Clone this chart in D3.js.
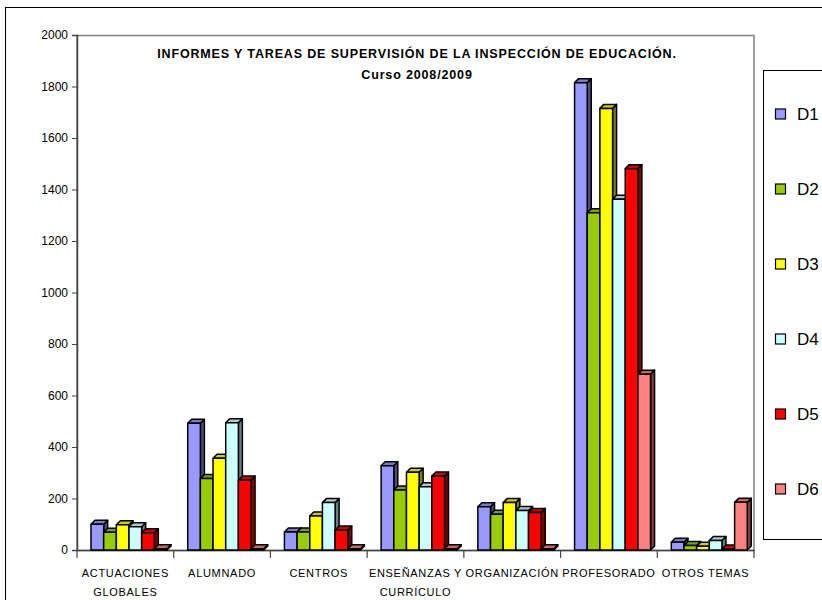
<!DOCTYPE html>
<html>
<head>
<meta charset="utf-8">
<script src="https://cdn.jsdelivr.net/npm/d3@7"></script>
<style>
  html, body { margin: 0; padding: 0; background: #fff; }
  svg { display: block; font-family: "Liberation Sans", Arial, sans-serif; }
</style>
</head>
<body>
<svg id="chart" width="822" height="600"></svg>
<script>
const categories = ["ACTUACIONES\nGLOBALES", "ALUMNADO", "CENTROS", "ENSEÑANZAS Y\nCURRÍCULO", "ORGANIZACIÓN", "PROFESORADO", "OTROS TEMAS"];
const seriesNames = ["D1", "D2", "D3", "D4", "D5", "D6"];
const D1 = [100, 492, 70, 327, 168, 1815, 30];
const D2 = [69, 278, 70, 233, 139, 1310, 17];
const D3 = [98, 356, 132, 302, 184, 1715, 15];
const D4 = [90, 494, 184, 246, 153, 1362, 37];
const D5 = [67, 272, 78, 287, 146, 1481, 4];
const D6 = [5, 5, 5, 5, 5, 683, 185];
const seriesColors = ["#9999FF", "#99CC00", "#FFFF00", "#CCFFFF", "#FF0000", "#FF8080"];
const yTicks = [0, 200, 400, 600, 800, 1000, 1200, 1400, 1600, 1800, 2000];
const titleLines = ["INFORMES Y TAREAS DE SUPERVISIÓN DE LA INSPECCIÓN DE EDUCACIÓN.", "Curso 2008/2009"];

(function () {
const seriesValues = [D1, D2, D3, D4, D5, D6];
const svg = d3.select("#chart");

// outer chart border
svg.append("rect").attr("x", 5.5).attr("y", 7.5).attr("width", 900).attr("height", 700)
  .attr("fill", "#fff").attr("stroke", "#000").attr("stroke-width", 1);

const pLeft = 77, pRight = 754, pTop = 35, pBottom = 550;
const x0 = d3.scaleBand().domain(categories).range([pLeft, pRight]).padding(0);
const x1 = d3.scaleBand().domain(seriesNames).range([14, 90]).padding(0);
const y = d3.scaleLinear().domain([0, 2000]).range([pBottom, pTop]);

// plot frame
svg.append("rect").attr("x", pLeft).attr("y", pTop + 0.5).attr("width", pRight - pLeft).attr("height", pBottom - pTop)
  .attr("fill", "none").attr("stroke", "#808080").attr("stroke-width", 1.5);

// y axis
const yAxis = d3.axisLeft(y).tickValues(yTicks).tickSize(5).tickPadding(4).tickFormat(d3.format("d"));
const gy = svg.append("g").attr("transform", `translate(${pLeft},0)`).call(yAxis);
gy.select(".domain").attr("stroke", "#444").attr("stroke-width", 1.5);
gy.selectAll(".tick line").attr("stroke", "#444");
gy.selectAll(".tick text").attr("font-size", 12).attr("fill", "#000")
  .attr("font-family", "Liberation Sans, Arial, sans-serif");

// x axis
const xAxis = d3.axisBottom(x0).tickSize(0).tickFormat("");
const gx = svg.append("g").attr("transform", `translate(0,${pBottom})`).call(xAxis);
gx.select(".domain").attr("stroke", "#444").attr("stroke-width", 1.5);
const boundaries = categories.map(c => x0(c)).concat([pRight]);
svg.append("g").selectAll("line").data(boundaries).join("line")
  .attr("x1", d => d).attr("x2", d => d).attr("y1", pBottom).attr("y2", pBottom + 8)
  .attr("stroke", "#444").attr("stroke-width", 1.2);

// category labels
const labG = svg.append("g");
categories.forEach(c => {
  const lines = c.split("\n");
  const t = labG.append("text").attr("text-anchor", "middle")
    .attr("font-size", 11).attr("fill", "#000").attr("letter-spacing", 0.7);
  lines.forEach((ln, i) => {
    t.append("tspan").attr("x", x0(c) + x0.bandwidth() / 2).attr("y", 577 + i * 19).text(ln);
  });
});

// bars (3D columns)
const dx = 4, dy = 4;
const barsG = svg.append("g");
function shade(col, k) {
  const c = d3.rgb(col);
  return d3.rgb(c.r * k, c.g * k, c.b * k).formatHex();
}
categories.forEach((c, ci) => {
  seriesNames.forEach((s, si) => {
    const v = seriesValues[si][ci];
    const xl = x0(c) + x1(s), w = x1.bandwidth();
    const yt = y(v), yb = y(0);
    const col = seriesColors[si];
    const g = barsG.append("g").attr("stroke", "#000").attr("stroke-width", 1.5).attr("stroke-linejoin", "round");
    g.append("polygon")
      .attr("points", [[xl + w, yt], [xl + w + dx, yt - dy], [xl + w + dx, yb - dy], [xl + w, yb]].join(" "))
      .attr("fill", shade(col, 0.5));
    g.append("polygon")
      .attr("points", [[xl, yt], [xl + dx, yt - dy], [xl + w + dx, yt - dy], [xl + w, yt]].join(" "))
      .attr("fill", shade(col, 0.8));
    g.append("rect").attr("x", xl).attr("y", yt).attr("width", w).attr("height", yb - yt)
      .attr("fill", col);
  });
});

// title
svg.append("text").attr("x", 417).attr("y", 58).attr("text-anchor", "middle")
  .attr("font-size", 12.5).attr("font-weight", "bold").attr("letter-spacing", 0.85).text(titleLines[0]);
svg.append("text").attr("x", 417).attr("y", 79).attr("text-anchor", "middle")
  .attr("font-size", 12.5).attr("font-weight", "bold").attr("letter-spacing", 0.85).text(titleLines[1]);

// legend
const leg = svg.append("g");
leg.append("rect").attr("x", 763.5).attr("y", 70.5).attr("width", 100).attr("height", 469)
  .attr("fill", "#fff").attr("stroke", "#000").attr("stroke-width", 1);
const ly = d3.scalePoint().domain(seriesNames).range([114, 489]);
seriesNames.forEach((s, i) => {
  leg.append("rect").attr("x", 775.5).attr("y", ly(s) - 5).attr("width", 10).attr("height", 10)
    .attr("fill", seriesColors[i]).attr("stroke", "#000").attr("stroke-width", 1.2);
  leg.append("text").attr("x", 797).attr("y", ly(s)).attr("dy", "0.36em")
    .attr("font-size", 17).attr("fill", "#000").text(s);
});
})();
</script>
</body>
</html>
